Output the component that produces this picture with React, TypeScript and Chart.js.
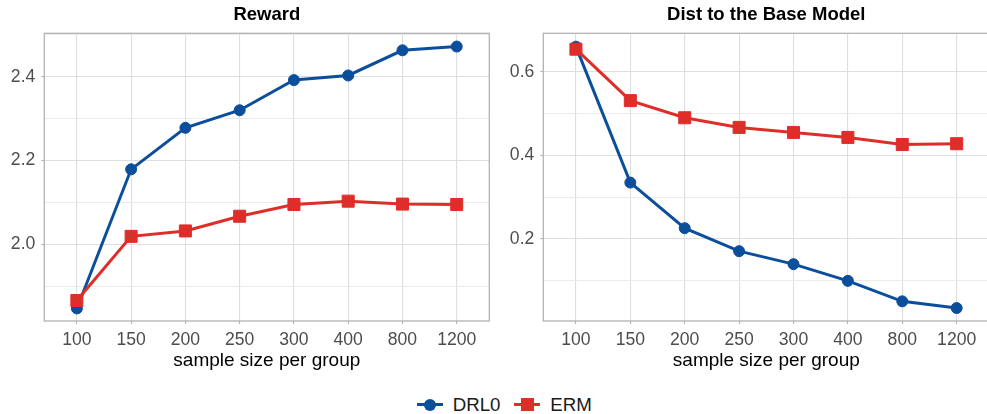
import React, { useEffect, useRef } from "react";
import { Chart, registerables } from "chart.js";

Chart.register(...registerables);

// ---- data ----
const categories = ["100", "150", "200", "250", "300", "400", "800", "1200"];
const rewardDRL0 = [1.847, 2.179, 2.278, 2.32, 2.392, 2.403, 2.463, 2.472];
const rewardERM = [1.866, 2.019, 2.032, 2.067, 2.095, 2.103, 2.096, 2.095];
const distDRL0 = [0.66, 0.335, 0.226, 0.171, 0.14, 0.1, 0.051, 0.035];
const distERM = [0.654, 0.531, 0.49, 0.467, 0.455, 0.443, 0.426, 0.428];
const rewardMajorTicks = [2.0, 2.2, 2.4];
const rewardMinorTicks = [1.9, 2.1, 2.3, 2.5];
const distMajorTicks = [0.2, 0.4, 0.6];
const distMinorTicks = [0.1, 0.3, 0.5];
const seriesNames = ["DRL0", "ERM"];

const BLUE = "#0B4F9C";
const RED = "#DF2E2A";
const FONT = "'Liberation Sans', Arial, Helvetica, sans-serif";

const borderPlugin = {
  id: "panelBorder",
  afterDraw(chart: any) {
    const { ctx, chartArea } = chart;
    ctx.save();
    ctx.strokeStyle = "#B3B3B3";
    ctx.lineWidth = 1.3;
    ctx.strokeRect(chartArea.left, chartArea.top, chartArea.right - chartArea.left, chartArea.bottom - chartArea.top);
    ctx.restore();
  },
};

function isMajor(v: number, majors: number[]) {
  return majors.some((m) => Math.abs(m - v) < 1e-6);
}

function makeConfig(
  title: string,
  drl: number[],
  erm: number[],
  yMin: number,
  yMax: number,
  majors: number[],
  minors: number[],
  yAxisWidth: number,
  rightPad: number
): any {
  const allY = [...majors, ...minors].filter((v) => v >= yMin && v <= yMax).sort((a, b) => a - b);
  return {
    type: "line",
    data: {
      datasets: [
        {
          label: seriesNames[0],
          data: drl.map((y, i) => ({ x: i, y })),
          borderColor: BLUE,
          backgroundColor: BLUE,
          pointBackgroundColor: BLUE,
          pointBorderColor: BLUE,
          pointBorderWidth: 1,
          borderWidth: 3,
          pointRadius: 5.5,
          pointStyle: "circle",
          tension: 0,
          order: 1,
        },
        {
          label: seriesNames[1],
          data: erm.map((y, i) => ({ x: i, y })),
          borderColor: RED,
          backgroundColor: RED,
          pointBackgroundColor: RED,
          pointBorderColor: RED,
          pointBorderWidth: 1,
          borderWidth: 3,
          pointRadius: 8.5,
          pointStyle: "rect",
          tension: 0,
          order: 0,
        },
      ],
    },
    options: {
      animation: false,
      responsive: false,
      events: [],
      layout: { autoPadding: false, padding: { left: 0, right: rightPad, top: 0, bottom: 0 } },
      plugins: {
        legend: { display: false },
        tooltip: { enabled: false },
        title: {
          display: true,
          text: title,
          fullSize: false,
          color: "#000000",
          font: { family: FONT, size: 18.5, weight: "bold" },
          padding: { top: 3.5, bottom: 7.6 },
        },
      },
      scales: {
        x: {
          type: "linear",
          min: -0.6,
          max: 7.6,
          afterBuildTicks: (scale: any) => {
            scale.ticks = categories.map((_, i) => ({ value: i }));
          },
          afterFit: (scale: any) => {
            scale.height = 64;
            scale.paddingLeft = 0;
            scale.paddingRight = 0;
          },
          ticks: {
            autoSkip: false,
            maxRotation: 0,
            color: "#4D4D4D",
            padding: 6,
            font: { family: FONT, size: 17.6 },
            callback: (v: any) => categories[Math.round(v)] ?? "",
          },
          grid: {
            color: "#DEDEDE",
            lineWidth: 1.1,
            tickLength: 3,
            tickColor: "#B3B3B3",
          },
          border: { display: false },
          title: {
            display: true,
            text: "sample size per group",
            color: "#000000",
            font: { family: FONT, size: 19 },
            padding: { top: 0, bottom: 13 },
          },
        },
        y: {
          type: "linear",
          min: yMin,
          max: yMax,
          afterBuildTicks: (scale: any) => {
            scale.ticks = allY.map((v) => ({ value: v }));
          },
          afterFit: (scale: any) => {
            scale.width = yAxisWidth;
            scale.paddingTop = 0;
            scale.paddingBottom = 0;
          },
          ticks: {
            autoSkip: false,
            color: "#4D4D4D",
            padding: 6,
            font: { family: FONT, size: 17.6 },
            callback: (v: any) => (isMajor(v, majors) ? Number(v).toFixed(1) : ""),
          },
          grid: {
            color: (ctx: any) => (isMajor(ctx.tick.value, majors) ? "#DEDEDE" : "#EBEBEB"),
            lineWidth: (ctx: any) => (isMajor(ctx.tick.value, majors) ? 1.1 : 1),
            tickLength: 3,
            tickColor: (ctx: any) => (isMajor(ctx.tick.value, majors) ? "#B3B3B3" : "rgba(0,0,0,0)"),
          },
          border: { display: false },
        },
      },
    },
    plugins: [borderPlugin],
  };
}

function Panel(props: { config: any; left: number; width: number; height: number }) {
  const ref = useRef<HTMLCanvasElement | null>(null);
  useEffect(() => {
    if (!ref.current) return;
    const chart = new Chart(ref.current, props.config);
    return () => chart.destroy();
  }, []);
  return (
    <div style={{ position: "absolute", left: props.left, top: 0, width: props.width, height: props.height }}>
      <canvas ref={ref} width={props.width} height={props.height} style={{ width: props.width, height: props.height, display: "block" }} />
    </div>
  );
}

function LegendItem(props: { left: number; color: string; shape: "circle" | "square"; label: string }) {
  const cy = 404.5;
  const markerSize = props.shape === "circle" ? 12 : 13;
  return (
    <>
      <div style={{ position: "absolute", left: props.left, top: cy - 1.5, width: 26, height: 3, background: props.color }} />
      <div
        style={{
          position: "absolute",
          left: props.left + 13 - markerSize / 2,
          top: cy - markerSize / 2,
          width: markerSize,
          height: markerSize,
          background: props.color,
          borderRadius: props.shape === "circle" ? "50%" : 0,
        }}
      />
      <div
        style={{
          position: "absolute",
          left: props.left + 36,
          top: cy - 12,
          height: 24,
          lineHeight: "24px",
          fontFamily: FONT,
          fontSize: 18.7,
          color: "#1A1A1A",
          whiteSpace: "nowrap",
        }}
      >
        {props.label}
      </div>
    </>
  );
}

export default function App() {
  const rewardCfg = makeConfig("Reward", rewardDRL0, rewardERM, 1.817, 2.5036, rewardMajorTicks, rewardMinorTicks, 44.3, 0.7);
  const distCfg = makeConfig("Dist to the Base Model", distDRL0, distERM, 0.004, 0.692, distMajorTicks, distMinorTicks, 53.3, 0.7);
  return (
    <div
      style={{
        position: "fixed",
        left: 0,
        top: 0,
        width: 987,
        height: 414,
        overflow: "hidden",
        background: "#FFFFFF",
      }}
    >
      <Panel config={rewardCfg} left={0} width={490} height={385} />
      <Panel config={distCfg} left={490} width={500} height={385} />
      <LegendItem left={416.7} color={BLUE} shape="circle" label={seriesNames[0]} />
      <LegendItem left={514.3} color={RED} shape="square" label={seriesNames[1]} />
    </div>
  );
}
